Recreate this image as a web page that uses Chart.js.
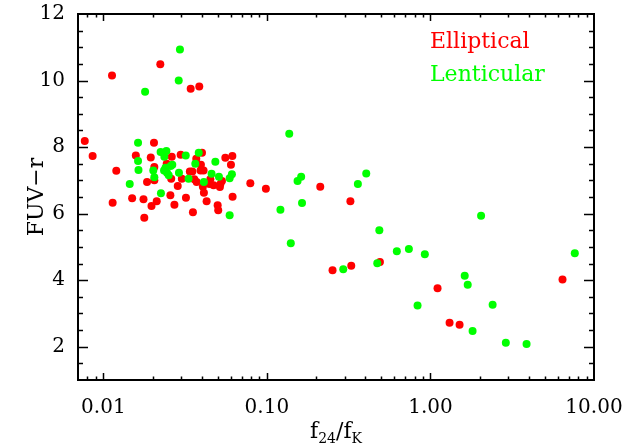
<!DOCTYPE html>
<html>
<head>
<meta charset="utf-8">
<script src="https://cdn.jsdelivr.net/npm/chart.js@4.4.1/dist/chart.umd.min.js"></script>
<style>
  html, body { margin: 0; padding: 0; background: #fff; }
  #wrap { position: relative; width: 624px; height: 446px; }
</style>
</head>
<body>
<div id="wrap"><canvas id="c"></canvas></div>
<script>
// ---- data ----
const seriesNames = ['Elliptical', 'Lenticular'];

const ellipticalX = [0.0077, 0.0086, 0.0120, 0.0114, 0.0113, 0.0223, 0.0342, 0.0386, 0.0204, 0.0158,
  0.0195, 0.0185, 0.0150, 0.0176, 0.0178, 0.0197, 0.0212, 0.0205, 0.0205, 0.0262,
  0.0297, 0.0244, 0.0260, 0.0285, 0.0257, 0.0272, 0.0320, 0.0302, 0.0338, 0.0350,
  0.0370, 0.0401, 0.0395, 0.0393, 0.0410, 0.0360, 0.0372, 0.0406, 0.0412, 0.0428,
  0.0353, 0.0445, 0.0451, 0.0472, 0.0500, 0.0504, 0.0519, 0.0531, 0.0516, 0.0557,
  0.0615, 0.0603, 0.0617, 0.0792, 0.0986, 0.212, 0.324, 0.491, 0.252, 0.328,
  1.105, 1.309, 1.507, 6.42];
const ellipticalY = [8.18, 7.73, 7.29, 6.33, 10.15, 10.49, 9.75, 9.82, 8.13, 7.75,
  7.69, 6.95, 6.46, 6.43, 5.88, 6.23, 6.37, 7.40, 7.00, 7.71,
  7.77, 7.50, 7.05, 6.83, 6.55, 6.27, 6.48, 7.05, 7.27, 7.27,
  7.65, 7.83, 7.47, 7.30, 7.30, 7.03, 6.95, 6.81, 6.63, 6.37,
  6.04, 6.89, 7.03, 6.85, 6.25, 6.10, 6.88, 6.98, 6.80, 7.68,
  7.73, 7.47, 6.51, 6.91, 6.75, 6.81, 6.37, 4.55, 4.30, 4.43,
  3.76, 2.72, 2.66, 4.02];

const lenticularX = [0.0163, 0.0163, 0.0164, 0.0145, 0.0202, 0.0205, 0.0224, 0.0243, 0.0236, 0.0240,
  0.0235, 0.0245, 0.0251, 0.0258, 0.0264, 0.0225, 0.0290, 0.0319, 0.0332, 0.0365,
  0.0383, 0.0412, 0.0459, 0.0484, 0.0509, 0.0592, 0.0611, 0.0592, 0.0294, 0.0289,
  0.0180, 0.137, 0.162, 0.154, 0.121, 0.164, 0.140, 0.405, 0.360, 0.487,
  0.623, 0.738, 0.924, 0.473, 0.293, 2.04, 7.63, 1.62, 1.69, 0.834,
  2.40, 1.81, 2.89, 3.87];
const lenticularY = [8.13, 7.58, 7.31, 6.89, 7.30, 7.09, 7.85, 7.88, 7.71, 7.38,
  7.30, 7.23, 7.15, 7.43, 7.47, 6.61, 7.23, 7.75, 7.05, 7.50,
  7.83, 6.95, 7.20, 7.56, 7.11, 7.06, 7.18, 5.95, 10.93, 10.00,
  9.66, 8.40, 7.11, 6.98, 6.12, 6.32, 5.11, 7.21, 6.89, 5.50,
  4.87, 4.94, 4.78, 4.51, 4.33, 5.94, 4.81, 4.13, 3.86, 3.24,
  3.26, 2.47, 2.12, 2.08];

const xTickValues = [0.01, 0.1, 1, 10];
const yTickValues = [2, 4, 6, 8, 10, 12];
const xRange = [0.007, 10];
const yRange = [1, 12];
const yTitle = 'FUV\u2212r';

// ---- chart ----
const FONT = '"DejaVu Serif", "Liberation Serif", serif';
Chart.defaults.font.family = FONT;
Chart.defaults.color = '#000';

const toPoints = (xs, ys) => xs.map((v, i) => ({ x: v, y: ys[i] }));

const framePlugin = {
  id: 'frame',
  beforeDatasetsDraw(chart) {
    const { ctx, chartArea: a, scales: { x, y } } = chart;
    ctx.save();
    ctx.strokeStyle = '#000';
    ctx.lineWidth = 2;
    ctx.strokeRect(a.left, a.top, a.right - a.left, a.bottom - a.top);
    ctx.lineWidth = 1.5;
    ctx.beginPath();
    for (let d = -3; d <= 1; d++) {
      for (let m = 1; m <= 9; m++) {
        const v = m * Math.pow(10, d);
        if (v <= x.min * 1.0001 || v >= x.max * 0.9999) continue;
        const px = Math.round(x.getPixelForValue(v)) + 0.5;
        const len = m === 1 ? 7 : 3.5;
        ctx.moveTo(px, a.bottom); ctx.lineTo(px, a.bottom - len);
        ctx.moveTo(px, a.top); ctx.lineTo(px, a.top + len);
      }
    }
    for (let v = y.min + 0.5; v < y.max; v += 0.5) {
      const py = Math.round(y.getPixelForValue(v)) + 0.5;
      const len = (Math.abs(v % 2) < 1e-9) ? 10 : 5;
      ctx.moveTo(a.left, py); ctx.lineTo(a.left + len, py);
      ctx.moveTo(a.right, py); ctx.lineTo(a.right - len, py);
    }
    ctx.stroke();
    ctx.restore();
  },
  afterDraw(chart) {
    const { ctx, chartArea: a, data } = chart;
    ctx.save();
    // legend text inside plot
    ctx.font = '22px ' + FONT;
    ctx.textBaseline = 'alphabetic';
    ctx.textAlign = 'left';
    data.datasets.forEach((ds, i) => {
      ctx.fillStyle = ds.backgroundColor;
      ctx.fillText(ds.label, 430, 48 + i * 33);
    });
    // x-axis title with subscripts: f_24 / f_K
    const big = '22px ' + FONT, small = '14px ' + FONT;
    const parts = [['f', big, 0], ['24', small, 5], ['/', big, 0], ['f', big, 0], ['K', small, 5]];
    let total = 0;
    parts.forEach(p => { ctx.font = p[1]; total += ctx.measureText(p[0]).width; });
    let cx = (a.left + a.right) / 2 - total / 2;
    const base = 438;
    parts.forEach(p => {
      ctx.font = p[1];
      ctx.fillStyle = '#000';
      ctx.fillText(p[0], cx, base + p[2]);
      cx += ctx.measureText(p[0]).width;
    });
    ctx.restore();
  }
};

new Chart(document.getElementById('c'), {
  type: 'scatter',
  data: {
    datasets: [
      { label: seriesNames[0], data: toPoints(ellipticalX, ellipticalY), backgroundColor: '#ff0000',
        borderWidth: 0, pointRadius: 4, pointHoverRadius: 4, order: 1 },
      { label: seriesNames[1], data: toPoints(lenticularX, lenticularY), backgroundColor: '#00ff00',
        borderWidth: 0, pointRadius: 4, pointHoverRadius: 4, order: 0 }
    ]
  },
  options: {
    responsive: true,
    maintainAspectRatio: false,
    devicePixelRatio: 1,
    animation: false,
    layout: { padding: { left: 0, right: 30, top: 14, bottom: 0 } },
    plugins: { legend: { display: false }, tooltip: { enabled: false } },
    scales: {
      x: {
        type: 'logarithmic',
        min: xRange[0], max: xRange[1],
        grid: { display: false, drawTicks: false },
        border: { display: false },
        afterBuildTicks: s => { s.ticks = xTickValues.map(v => ({ value: v })); },
        afterFit: s => { s.height = 66; s.paddingLeft = 0; s.paddingRight = 0; },
        ticks: {
          autoSkip: false, maxRotation: 0, padding: 16,
          font: { size: 20 },
          callback: v => Number(v).toFixed(2)
        }
      },
      y: {
        type: 'linear',
        min: yRange[0], max: yRange[1],
        grid: { display: false, drawTicks: false },
        border: { display: false },
        afterBuildTicks: s => { s.ticks = yTickValues.map(v => ({ value: v })); },
        afterFit: s => { s.width = 78; s.paddingTop = 0; s.paddingBottom = 0; },
        title: { display: true, text: yTitle, font: { size: 22 }, padding: { top: 24, bottom: 0 } },
        ticks: { padding: 13, font: { size: 20 }, callback: v => String(v) }
      }
    }
  },
  plugins: [framePlugin]
});
</script>
</body>
</html>
